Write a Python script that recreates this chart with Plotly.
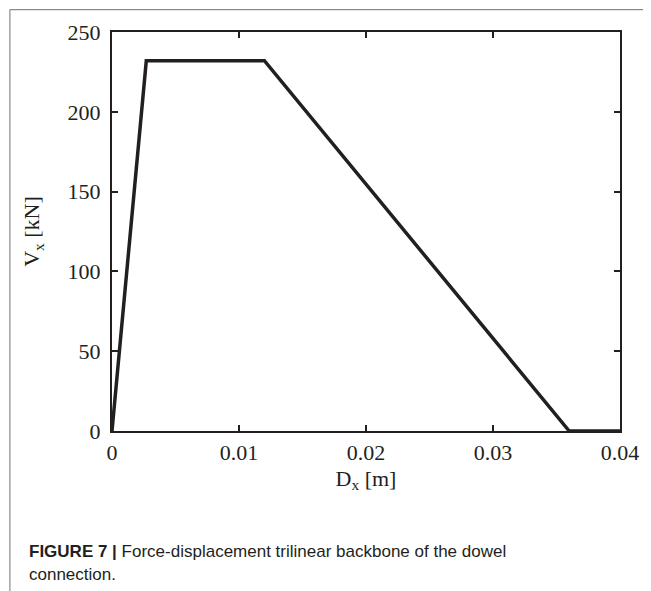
import plotly.graph_objects as go

disp_m = [0, 0.0027, 0.012, 0.036, 0.04]
force_kN = [0, 232, 232, 0, 0]
x_ticks = [0, 0.01, 0.02, 0.03, 0.04]
x_tick_labels = ["0", "0.01", "0.02", "0.03", "0.04"]
y_ticks = [0, 50, 100, 150, 200, 250]
y_tick_labels = ["0", "50", "100", "150", "200", "250"]

OFF = 8  # default body margin of the html page
W, H = 651 - OFF, 591 - OFF
L, R, T, B = 112 - OFF, 622 - OFF, 31 - OFF, 431 - OFF
pw, ph = R - L, B - T

def px(x):
    return (x - OFF - L) / pw

def py(y):
    return (B - (y - OFF)) / ph

ink = "#231f20"
serif = "Liberation Serif, Times New Roman, serif"
sans = "Liberation Sans, Arial, sans-serif"

fig = go.Figure()
fig.add_trace(go.Scatter(x=disp_m, y=force_kN, mode="lines",
                         line=dict(color=ink, width=3.5), showlegend=False))

axis_common = dict(showline=True, linecolor=ink, linewidth=2, mirror="ticks",
                   ticks="inside", ticklen=6, tickwidth=2, tickcolor=ink,
                   showgrid=False, zeroline=False,
                   tickfont=dict(family=serif, size=22, color=ink))

fig.update_xaxes(range=[0, 0.04], tickvals=x_ticks, ticktext=x_tick_labels,
                 ticklabelstandoff=1,
                 title=dict(text="D<sub>x</sub> [m]", font=dict(family=serif, size=22, color=ink),
                            standoff=6),
                 **axis_common)
fig.update_yaxes(range=[0, 250], tickvals=y_ticks, ticktext=y_tick_labels,
                 ticklabelstandoff=5,
                 title=dict(text="V<sub>x</sub> [kN]", font=dict(family=serif, size=22, color=ink),
                            standoff=22),
                 **axis_common)

gray = "#8a8a8a"
fig.add_shape(type="line", xref="paper", yref="paper", x0=px(9.5), x1=px(9.5), y0=py(8.5), y1=py(600),
              line=dict(color=gray, width=1.2))
fig.add_shape(type="line", xref="paper", yref="paper", x0=px(9.5), x1=px(660), y0=py(8.5), y1=py(8.5),
              line=dict(color=gray, width=1.2))

fig.add_annotation(xref="paper", yref="paper", x=px(27), y=py(552), xanchor="left", yanchor="middle",
                   showarrow=False, align="left",
                   text="<b>FIGURE 7 |</b> Force-displacement trilinear backbone of the dowel",
                   font=dict(family=sans, size=17, color=ink))
fig.add_annotation(xref="paper", yref="paper", x=px(27), y=py(575), xanchor="left", yanchor="middle",
                   showarrow=False, align="left", text="connection.",
                   font=dict(family=sans, size=17, color=ink))

fig.update_layout(width=W, height=H, margin=dict(l=L, r=W - R, t=T, b=H - B),
                  paper_bgcolor="white", plot_bgcolor="white")

fig.write_html("out.html")
